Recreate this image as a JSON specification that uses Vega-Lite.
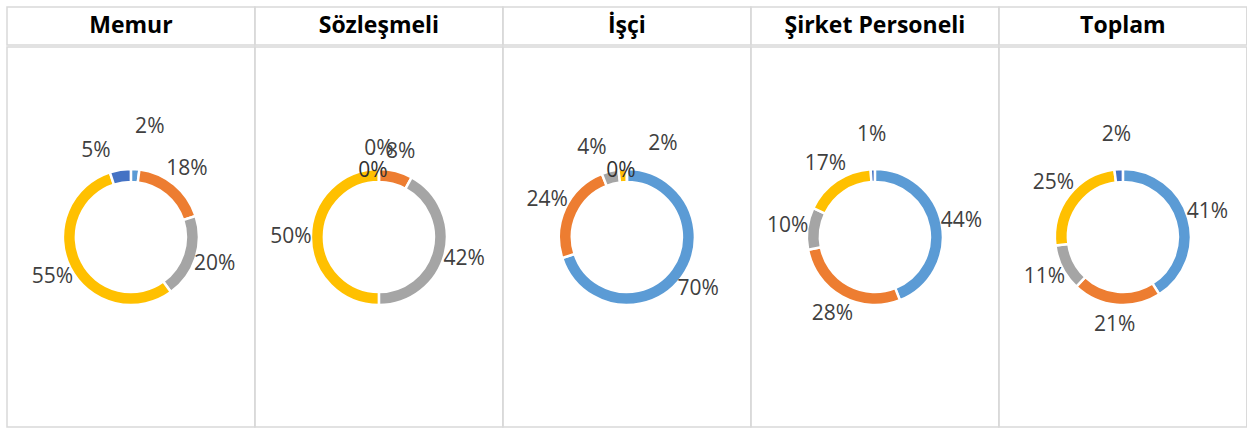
{
  "$schema": "https://vega.github.io/schema/vega-lite/v6.json",
  "background": "white",
  "padding": {"left": 6, "top": 6, "right": 2, "bottom": 2},
  "spacing": 0,
  "datasets": {
    "panels": [
      {"panel": "Memur"},
      {"panel": "Sözleşmeli"},
      {"panel": "İşçi"},
      {"panel": "Şirket Personeli"},
      {"panel": "Toplam"}
    ],
    "pie": [
      {"panel": "Memur", "k": 1, "v": 0.02},
      {"panel": "Memur", "k": 2, "v": 0.18},
      {"panel": "Memur", "k": 3, "v": 0.20},
      {"panel": "Memur", "k": 4, "v": 0.55},
      {"panel": "Memur", "k": 5, "v": 0.05},
      {"panel": "Sözleşmeli", "k": 1, "v": 0.0},
      {"panel": "Sözleşmeli", "k": 2, "v": 0.08},
      {"panel": "Sözleşmeli", "k": 3, "v": 0.42},
      {"panel": "Sözleşmeli", "k": 4, "v": 0.50},
      {"panel": "Sözleşmeli", "k": 5, "v": 0.0},
      {"panel": "İşçi", "k": 1, "v": 0.70},
      {"panel": "İşçi", "k": 2, "v": 0.24},
      {"panel": "İşçi", "k": 3, "v": 0.04},
      {"panel": "İşçi", "k": 4, "v": 0.02},
      {"panel": "İşçi", "k": 5, "v": 0.0},
      {"panel": "Şirket Personeli", "k": 1, "v": 0.44},
      {"panel": "Şirket Personeli", "k": 2, "v": 0.28},
      {"panel": "Şirket Personeli", "k": 3, "v": 0.10},
      {"panel": "Şirket Personeli", "k": 4, "v": 0.17},
      {"panel": "Şirket Personeli", "k": 5, "v": 0.01},
      {"panel": "Toplam", "k": 1, "v": 0.41},
      {"panel": "Toplam", "k": 2, "v": 0.21},
      {"panel": "Toplam", "k": 3, "v": 0.11},
      {"panel": "Toplam", "k": 4, "v": 0.25},
      {"panel": "Toplam", "k": 5, "v": 0.02}
    ]
  },
  "vconcat": [
    {
      "data": {"name": "panels"},
      "spacing": 0,
      "bounds": "flush",
      "facet": {
        "column": {
          "field": "panel",
          "sort": ["Memur", "Sözleşmeli", "İşçi", "Şirket Personeli", "Toplam"],
          "header": null
        }
      },
      "spec": {
        "width": 247.8,
        "height": 38,
        "view": {"stroke": "#d9d9d9", "strokeWidth": 1.5},
        "mark": {
          "type": "text",
          "font": "Open Sans",
          "fontWeight": "bold",
          "fontSize": 23,
          "color": "#000000",
          "align": "center",
          "baseline": "middle"
        },
        "encoding": {"text": {"field": "panel"}}
      }
    },
    {
      "data": {"name": "pie"},
      "spacing": 0,
      "bounds": "flush",
      "facet": {
        "column": {
          "field": "panel",
          "sort": ["Memur", "Sözleşmeli", "İşçi", "Şirket Personeli", "Toplam"],
          "header": null
        }
      },
      "spec": {
        "width": 247.8,
        "height": 380,
        "view": {"stroke": "#d9d9d9", "strokeWidth": 1.5},
        "encoding": {
          "theta": {"field": "v", "type": "quantitative", "stack": true},
          "order": {"field": "k", "type": "quantitative"}
        },
        "layer": [
          {
            "mark": {"type": "arc", "outerRadius": 68, "innerRadius": 55, "stroke": "white", "strokeWidth": 2.5},
            "encoding": {
              "color": {
                "field": "k",
                "type": "nominal",
                "scale": {"domain": [1, 2, 3, 4, 5], "range": ["#5B9BD5", "#ED7D31", "#A5A5A5", "#FFC000", "#4472C4"]},
                "legend": null
              }
            }
          },
          {
            "mark": {"type": "text", "radius": 88, "font": "Open Sans", "fontSize": 21, "color": "#404040", "align": "center", "baseline": "middle"},
            "encoding": {
              "text": {
                "condition": {"test": "datum.v >= 0.06 || (datum.v == 0 && datum.k != 5)", "field": "v", "type": "quantitative", "format": ".0%"},
                "value": ""
              }
            }
          },
          {
            "mark": {"type": "text", "radius": 102, "font": "Open Sans", "fontSize": 21, "color": "#404040", "align": "center", "baseline": "middle"},
            "encoding": {
              "text": {
                "condition": {"test": "datum.v > 0 && datum.v < 0.03 && datum.k == 5", "field": "v", "type": "quantitative", "format": ".0%"},
                "value": ""
              }
            }
          },
          {
            "mark": {"type": "text", "radius": 96, "dx": -20, "dy": 9, "font": "Open Sans", "fontSize": 21, "color": "#404040", "align": "center", "baseline": "middle"},
            "encoding": {
              "text": {
                "condition": {"test": "datum.v >= 0.03 && datum.v < 0.06 && datum.k == 5", "field": "v", "type": "quantitative", "format": ".0%"},
                "value": ""
              }
            }
          },
          {
            "mark": {"type": "text", "radius": 92, "dx": -12, "font": "Open Sans", "fontSize": 21, "color": "#404040", "align": "center", "baseline": "middle"},
            "encoding": {
              "text": {
                "condition": {"test": "datum.v > 0 && datum.v < 0.06 && (datum.k == 2 || datum.k == 3)", "field": "v", "type": "quantitative", "format": ".0%"},
                "value": ""
              }
            }
          },
          {
            "mark": {"type": "text", "radius": 110, "dx": 12, "font": "Open Sans", "fontSize": 21, "color": "#404040", "align": "center", "baseline": "middle"},
            "encoding": {
              "text": {
                "condition": {"test": "datum.v > 0 && datum.v < 0.06 && datum.k == 1", "field": "v", "type": "quantitative", "format": ".0%"},
                "value": ""
              }
            }
          },
          {
            "mark": {"type": "text", "radius": 96, "dx": 42, "dy": 3, "font": "Open Sans", "fontSize": 21, "color": "#404040", "align": "center", "baseline": "middle"},
            "encoding": {
              "text": {
                "condition": {"test": "datum.v > 0 && datum.v < 0.06 && datum.k == 4", "field": "v", "type": "quantitative", "format": ".0%"},
                "value": ""
              }
            }
          },
          {
            "mark": {"type": "text", "radius": 66, "dx": -6, "font": "Open Sans", "fontSize": 21, "color": "#303030", "align": "center", "baseline": "middle"},
            "encoding": {
              "text": {
                "condition": {"test": "datum.v == 0 && datum.k == 5", "field": "v", "type": "quantitative", "format": ".0%"},
                "value": ""
              }
            }
          }
        ],
        "resolve": {"scale": {"theta": "independent"}}
      }
    }
  ],
  "config": {
    "view": {"stroke": "#d9d9d9", "strokeWidth": 1.5},
    "style": {"cell": {"stroke": "#d9d9d9", "strokeWidth": 1.5}}
  }
}
